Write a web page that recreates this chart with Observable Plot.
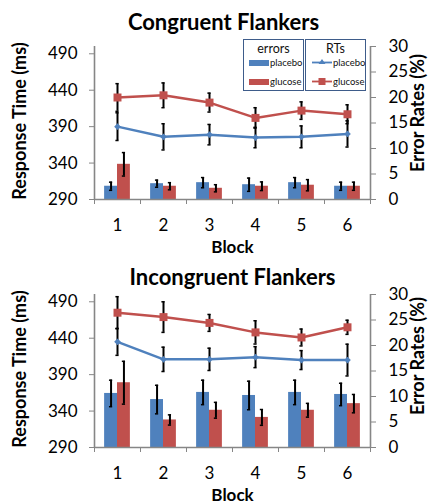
<!DOCTYPE html>
<html>
<head>
<meta charset="utf-8">
<script src="https://cdn.jsdelivr.net/npm/d3@7"></script>
<script src="https://cdn.jsdelivr.net/npm/@observablehq/plot@0.6"></script>
<style>
  html, body { margin: 0; padding: 0; background: #fff; }
  #chart { position: relative; width: 434px; height: 504px; overflow: hidden; font-family: Lato, "Open Sans", sans-serif; }
  .panel { position: absolute; left: 0; }
  .legbox { position: absolute; border: 1px solid #3E5C8A; background: #fff; box-sizing: border-box; }
  .leghead { position: absolute; left: 0; right: 0; text-align: center; font-size: 12.5px; color: #111; }
  .legrow { position: absolute; left: 0; font-size: 9.5px; color: #111; display: flex; align-items: center; white-space: nowrap; }
</style>
</head>
<body>
<div id="chart"></div>
<script>
const blocks = [1, 2, 3, 4, 5, 6];
const groups = ["placebo", "glucose"];
const leftTicks = [290, 340, 390, 440, 490];
const rightTicks = [0, 5, 10, 15, 20, 25, 30];

// Congruent flankers
const congRTPlacebo    = [390, 376, 379, 375, 376, 380];
const congRTPlaceboSE  = [19, 18, 14, 14, 15, 18];
const congRTGlucose    = [430, 433, 423, 402, 412, 407];
const congRTGlucoseSE  = [19, 17, 13, 14, 12, 13];
const congErrPlacebo   = [2.6, 3.1, 3.3, 2.9, 3.3, 2.6];
const congErrPlaceboSE = [0.8, 0.7, 1.0, 1.3, 1.0, 0.8];
const congErrGlucose   = [6.9, 2.6, 2.2, 2.6, 2.8, 2.6];
const congErrGlucoseSE = [2.3, 0.7, 0.7, 0.85, 1.1, 0.8];

// Incongruent flankers
const incRTPlacebo    = [435, 411, 411, 414, 410, 410];
const incRTPlaceboSE  = [18.5, 16.7, 15.3, 14.4, 13, 21.8];
const incRTGlucose    = [475, 469, 461, 448, 441, 455];
const incRTGlucoseSE  = [22, 21, 11.6, 16, 11.6, 9.7];
const incErrPlacebo   = [10.6, 9.4, 10.8, 10.2, 10.8, 10.4];
const incErrPlaceboSE = [2.6, 2.8, 2.4, 2.8, 2.4, 2.2];
const incErrGlucose   = [12.7, 5.4, 7.3, 5.9, 7.3, 8.6];
const incErrGlucoseSE = [4.2, 1.0, 1.55, 1.55, 1.35, 1.8];

const BLUE = "#4F81BD", RED = "#C0504D", AXIS = "#868686";
const FONT = "Lato, 'Open Sans', sans-serif";

// secondary axis (0–30 %) mapped onto the RT domain (290–500 ms)
const RT0 = 290, RT1 = 500, ER1 = 30;
const e2y = e => RT0 + e * (RT1 - RT0) / ER1;

function panel(cfg) {
  const errP = blocks.map((b, i) => ({block: b, v: cfg.errP[i], se: cfg.errPse[i]}));
  const errG = blocks.map((b, i) => ({block: b, v: cfg.errG[i], se: cfg.errGse[i]}));
  const rtP = blocks.map((b, i) => ({block: b, v: cfg.rtP[i], se: cfg.rtPse[i]}));
  const rtG = blocks.map((b, i) => ({block: b, v: cfg.rtG[i], se: cfg.rtGse[i]}));
  const bw = 0.28, cap = 0.035;
  const barMarks = (data, side, color) => {
    const x1 = d => side < 0 ? d.block - bw : d.block;
    const x2 = d => side < 0 ? d.block : d.block + bw;
    return [Plot.rect(data, {x1, x2, y1: RT0, y2: d => e2y(d.v), fill: color})];
  };
  const barErr = (data, side) => {
    const xc = d => d.block + side * bw / 2;
    return [
      Plot.ruleX(data, {x: xc, y1: d => e2y(d.v - d.se), y2: d => e2y(d.v + d.se), stroke: "#000", strokeWidth: 2}),
      Plot.ruleY(data, {x1: d => xc(d) - cap, x2: d => xc(d) + cap, y: d => e2y(d.v + d.se), stroke: "#000", strokeWidth: 1.5}),
      Plot.ruleY(data, {x1: d => xc(d) - cap, x2: d => xc(d) + cap, y: d => e2y(d.v - d.se), stroke: "#000", strokeWidth: 1.5})
    ];
  };
  const rtErr = data => [
    Plot.ruleX(data, {x: "block", y1: d => d.v - d.se, y2: d => d.v + d.se, stroke: "#000", strokeWidth: 2}),
    Plot.ruleY(data, {x1: d => d.block - cap, x2: d => d.block + cap, y: d => d.v + d.se, stroke: "#000", strokeWidth: 1.5}),
    Plot.ruleY(data, {x1: d => d.block - cap, x2: d => d.block + cap, y: d => d.v - d.se, stroke: "#000", strokeWidth: 1.5})
  ];
  return Plot.plot({
    width: 434, height: 256,
    marginLeft: 94, marginRight: 64, marginTop: 46, marginBottom: 57,
    style: {fontFamily: FONT, background: "transparent", overflow: "visible"},
    x: {type: "linear", domain: [0.5, 6.5], axis: null},
    y: {domain: [RT0, RT1], axis: null},
    marks: [
      ...barMarks(errP, -1, BLUE),
      ...barMarks(errG, 1, RED),
      ...barErr(errP, -1),
      ...barErr(errG, 1),
      Plot.ruleX([0.5, 6.5], {stroke: AXIS, strokeWidth: 1.6}),
      Plot.ruleY([RT0], {stroke: AXIS, strokeWidth: 1.6}),
      Plot.axisY({anchor: "left", ticks: leftTicks, tickSize: 5, tickPadding: 12, fontSize: 17, stroke: AXIS, fill: "#000", label: null, tickFormat: d => d}),
      Plot.axisY({anchor: "right", ticks: rightTicks.map(e2y), tickSize: 5, tickPadding: 13, fontSize: 17, stroke: AXIS, fill: "#000", label: null,
        tickFormat: v => Math.round((v - RT0) * ER1 / (RT1 - RT0))}),
      Plot.axisX({anchor: "bottom", ticks: d3.range(0.5, 7, 1), tickSize: 5, tickFormat: () => "", stroke: AXIS, label: null}),
      Plot.axisX({anchor: "bottom", ticks: blocks, tickSize: 0, tickPadding: 19, fontSize: 17, fill: "#000", label: null, tickFormat: d => d}),
      Plot.line(rtG, {x: "block", y: "v", stroke: RED, strokeWidth: 2.5}),
      Plot.line(rtP, {x: "block", y: "v", stroke: BLUE, strokeWidth: 2.5}),
      ...rtErr(rtG),
      ...rtErr(rtP),
      Plot.dot(rtG, {x: "block", y: "v", symbol: "square", r: 4.5, fill: RED, stroke: null}),
      Plot.dot(rtP, {x: "block", y: "v", symbol: "diamond2", r: 3, fill: BLUE, stroke: null}),
      Plot.text([cfg.title], {frameAnchor: "top", dx: cfg.titleDx, dy: cfg.titleDy, fontSize: 22, fontWeight: "bold", fill: "#000", lineAnchor: "middle", textAnchor: "middle"}),
      Plot.text(["Response Time (ms)"], {frameAnchor: "left", dx: -74, dy: -2, rotate: -90, fontSize: 18, fontWeight: "bold", fill: "#000", lineAnchor: "middle", textAnchor: "middle"}),
      Plot.text(["Error Rates (%)"], {frameAnchor: "right", dx: 48, dy: cfg.erDy, rotate: -90, fontSize: 18, fontWeight: "bold", fill: "#000", lineAnchor: "middle", textAnchor: "middle"}),
      Plot.text(["Block"], {frameAnchor: "bottom", dy: 48, fontSize: 17, fontWeight: "bold", fill: "#000", lineAnchor: "middle", textAnchor: "middle"})
    ]
  });
}

const chart = document.getElementById("chart");
const p1 = panel({
  title: "Congruent Flankers", titleDx: -9, titleDy: -24, erDy: -10,
  rtP: congRTPlacebo, rtPse: congRTPlaceboSE, rtG: congRTGlucose, rtGse: congRTGlucoseSE,
  errP: congErrPlacebo, errPse: congErrPlaceboSE, errG: congErrGlucose, errGse: congErrGlucoseSE
});
p1.classList.add("panel"); p1.style.top = "0px";
chart.appendChild(p1);

const p2 = panel({
  title: "Incongruent Flankers", titleDx: 0, titleDy: -17, erDy: -15,
  rtP: incRTPlacebo, rtPse: incRTPlaceboSE, rtG: incRTGlucose, rtGse: incRTGlucoseSE,
  errP: incErrPlacebo, errPse: incErrPlaceboSE, errG: incErrGlucose, errGse: incErrGlucoseSE
});
p2.classList.add("panel"); p2.style.top = "248px";
chart.appendChild(p2);

// legend (two boxes in the upper panel)
const legendGroups = [
  {head: "errors", left: 243, kind: "bar"},
  {head: "RTs", left: 305, kind: "line"}
];
const legendColors = {placebo: BLUE, glucose: RED};
legendGroups.forEach(g => {
  const box = document.createElement("div");
  box.className = "legbox";
  Object.assign(box.style, {left: g.left + "px", top: "39px", width: "61px", height: "52px"});
  const h = document.createElement("div");
  h.className = "leghead"; h.style.top = "1px"; h.textContent = g.head;
  box.appendChild(h);
  groups.forEach((name, i) => {
    const row = document.createElement("div");
    row.className = "legrow";
    row.style.top = (i === 0 ? 17 : 36) + "px";
    row.style.left = (g.kind === "bar" ? 5 : 6) + "px";
    const c = legendColors[name];
    let sw;
    if (g.kind === "bar") {
      sw = `<svg width="20" height="8"><rect x="0" y="1" width="20" height="6" fill="${c}"/></svg>`;
    } else {
      const m = name === "placebo"
        ? `<path d="M10,1 L13.5,6 L6.5,6 Z" fill="${c}"/>`
        : `<rect x="6.5" y="1" width="7" height="7" fill="${c}"/>`;
      sw = `<svg width="20" height="9"><line x1="0" y1="4.5" x2="20" y2="4.5" stroke="${c}" stroke-width="1.8"/>${m}</svg>`;
    }
    row.innerHTML = sw + `<span style="margin-left:1px">${name}</span>`;
    box.appendChild(row);
  });
  chart.appendChild(box);
});
</script>
</body>
</html>
